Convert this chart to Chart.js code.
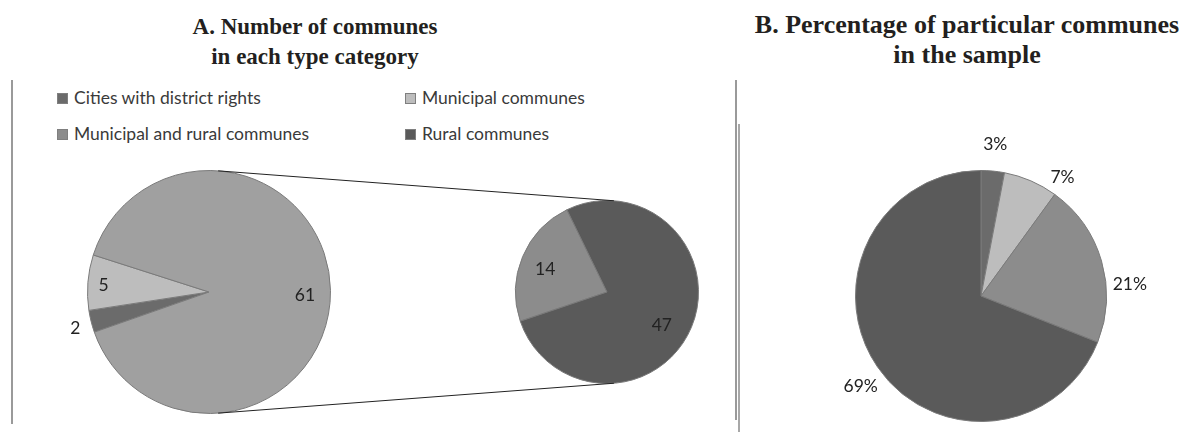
<!DOCTYPE html>
<html>
<head>
<meta charset="utf-8">
<script src="https://cdn.jsdelivr.net/npm/chart.js@4.4.1/dist/chart.umd.min.js"></script>
<style>
  html, body { margin: 0; padding: 0; background: #fff; }
  #wrap { position: relative; width: 1194px; height: 432px; overflow: hidden; }
  #wrap canvas { position: absolute; left: 0; top: 0; }
  .title {
    position: absolute; margin: 0;
    font-family: "Liberation Serif", "Times New Roman", serif; font-weight: bold;
    color: #231f20; text-align: center;
  }
  #titleA { left: 150px; width: 330px; top: 12px; font-size: 23px; line-height: 30px; }
  #titleB { left: 740px; width: 454px; top: 10px; font-size: 26px; line-height: 30px; }
  .vline { position: absolute; width: 2px; background: #9a9a9a; }
  #legend { position: absolute; left: 57px; top: 88px; font: 17.5px Lato, sans-serif; color: #3a3a3a; }
  .item { position: absolute; white-space: nowrap; line-height: 20px; }
  .item span.box { display: inline-block; width: 9px; height: 9px; margin-right: 6px; border: 1px solid #7f7f7f; vertical-align: 0px; }
</style>
</head>
<body>
<div id="wrap">
  <div class="title" id="titleA">A. Number of communes<br>in each type category</div>
  <div class="title" id="titleB">B. Percentage of particular communes<br>in the sample</div>
  <div class="vline" style="left:11px; top:80px; height:344px;"></div>
  <div class="vline" style="left:735px; top:80px; height:340px;"></div>
  <div class="vline" style="left:738px; top:124px; height:308px; background:#a8a8a8;"></div>
  <div id="legend"></div>
  <canvas id="chartA" width="1194" height="432"></canvas>
  <canvas id="chartSub" width="1194" height="432"></canvas>
  <canvas id="chartB" width="1194" height="432"></canvas>
</div>
<script>
// Kategorie
const categories = ['Cities with district rights', 'Municipal communes', 'Municipal and rural communes', 'Rural communes'];
const catColors = ['#6b6b6b', '#bdbdbd', '#8c8c8c', '#5a5a5a'];

// A: glowny wykres (ostatni kawalek = suma gmin z drugiego kolka)
const mainLabels = ['Cities with district rights', 'Municipal communes', 'Other'];
const mainValues = [2, 5, 61];
const mainColors = ['#6b6b6b', '#bdbdbd', '#a0a0a0'];

// A: drugie kolko
const subLabels = ['Municipal and rural communes', 'Rural communes'];
const subValues = [14, 47];
const subColors = ['#8c8c8c', '#5a5a5a'];

// B: procenty
const pctValues = [3, 7, 21, 69];

// Legenda
const legendEl = document.getElementById('legend');
const legendPos = [[0, 0], [348, 0], [0, 36], [348, 36]];
categories.forEach((c, i) => {
  const div = document.createElement('div');
  div.className = 'item';
  div.style.left = legendPos[i][0] + 'px';
  div.style.top = legendPos[i][1] + 'px';
  div.innerHTML = `<span class="box" style="background:${catColors[i]}"></span>${c}`;
  legendEl.appendChild(div);
});

// Etykiety danych (promien jako ulamek promienia kola, przesuniecie kata w stopniach)
const labelPlugin = {
  id: 'sliceLabels',
  afterDatasetsDraw(chart, args, opts) {
    const ctx = chart.ctx;
    const meta = chart.getDatasetMeta(0);
    const ds = chart.data.datasets[0];
    ctx.save();
    ctx.font = '17.5px Lato, sans-serif';
    ctx.fillStyle = '#222';
    ctx.textAlign = 'center';
    ctx.textBaseline = 'middle';
    meta.data.forEach((arc, i) => {
      const ang = (arc.startAngle + arc.endAngle) / 2 + (opts.shift[i] || 0) * Math.PI / 180;
      const text = ds.data[i] + (opts.suffix || '');
      const fr = opts.radius[i];
      const x = arc.x + Math.cos(ang) * arc.outerRadius * fr;
      const y = arc.y + Math.sin(ang) * arc.outerRadius * fr;
      ctx.fillText(text, x, y);
    });
    ctx.restore();
  }
};

function pieOptions(padding, rotation, labelOpts) {
  return {
    responsive: false,
    animation: false,
    rotation: rotation,
    layout: { padding: padding },
    plugins: {
      legend: { display: false },
      tooltip: { enabled: false },
      sliceLabels: labelOpts
    }
  };
}

const chartA = new Chart(document.getElementById('chartA'), {
  type: 'pie',
  data: {
    labels: mainLabels,
    datasets: [{ data: mainValues, backgroundColor: mainColors, borderColor: '#7a7a7a', borderWidth: 1 }]
  },
  options: pieOptions({ left: 87, right: 863, top: 170, bottom: 18 }, 250.7,
    { radius: [1.14, 0.87, 0.79], shift: [-1, -1, 3] }),
  plugins: [labelPlugin]
});

// linie laczace oba kolka (styczne zewnetrzne)
const connectorPlugin = {
  id: 'connector',
  afterDatasetsDraw(chart) {
    const a = chartA.getDatasetMeta(0).data[0];
    const b = chart.getDatasetMeta(0).data[0];
    const dx = b.x - a.x, dy = b.y - a.y;
    const d = Math.hypot(dx, dy);
    const base = Math.atan2(dy, dx);
    const phi = Math.acos((a.outerRadius - b.outerRadius) / d);
    const ctx = chart.ctx;
    ctx.save();
    ctx.strokeStyle = '#222';
    ctx.lineWidth = 1;
    [-phi, phi].forEach(p => {
      const t = base + p;
      ctx.beginPath();
      ctx.moveTo(a.x + Math.cos(t) * a.outerRadius, a.y + Math.sin(t) * a.outerRadius);
      ctx.lineTo(b.x + Math.cos(t) * b.outerRadius, b.y + Math.sin(t) * b.outerRadius);
      ctx.stroke();
    });
    ctx.restore();
  }
};

const chartSub = new Chart(document.getElementById('chartSub'), {
  type: 'pie',
  data: {
    labels: subLabels,
    datasets: [{ data: subValues, backgroundColor: subColors, borderColor: '#7a7a7a', borderWidth: 1 }]
  },
  options: pieOptions({ left: 515, right: 495, top: 200, bottom: 48 }, 251.4,
    { radius: [0.72, 0.70], shift: [-2.5, 8.5] }),
  plugins: [connectorPlugin, labelPlugin]
});

const chartB = new Chart(document.getElementById('chartB'), {
  type: 'pie',
  data: {
    labels: categories,
    datasets: [{ data: pctValues, backgroundColor: catColors, borderColor: '#7a7a7a', borderWidth: 1 }]
  },
  options: pieOptions({ left: 855, right: 87, top: 170, bottom: 10 }, 0,
    { radius: [1.21, 1.15, 1.19, 1.20], shift: [0, 11, 11.6, -2.8], suffix: '%' }),
  plugins: [labelPlugin]
});
</script>
</body>
</html>
